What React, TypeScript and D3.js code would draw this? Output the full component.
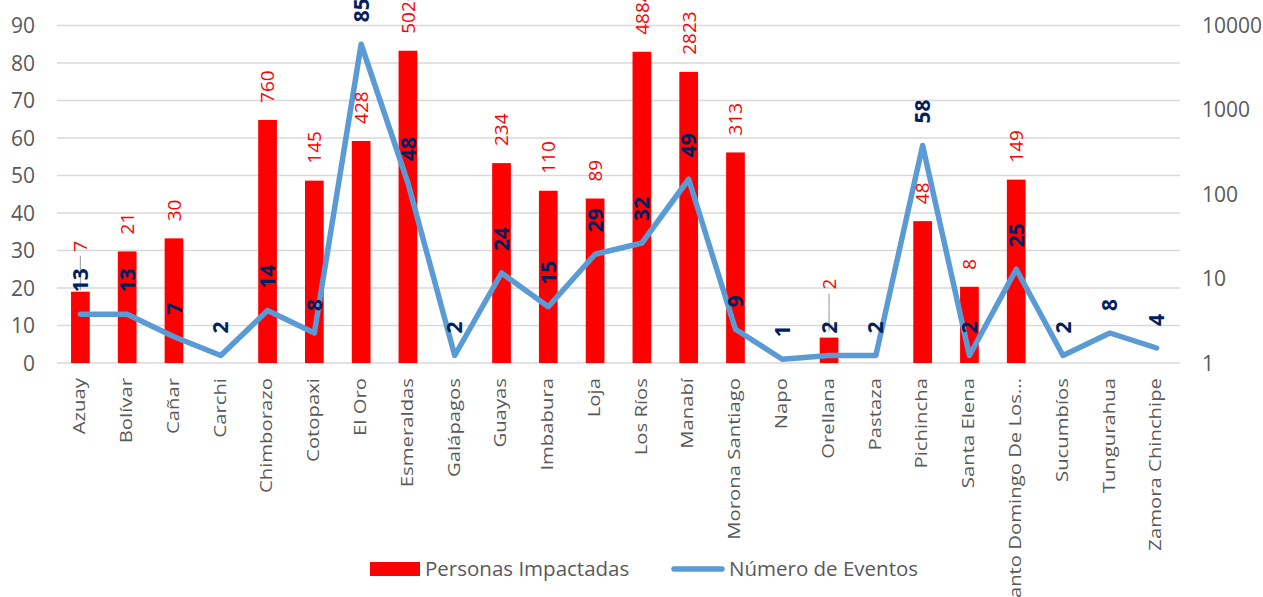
import * as d3 from 'd3';

// provinces on the x axis
const provincias = [
  'Azuay', 'Bolívar', 'Cañar', 'Carchi', 'Chimborazo', 'Cotopaxi', 'El Oro', 'Esmeraldas',
  'Galápagos', 'Guayas', 'Imbabura', 'Loja', 'Los Ríos', 'Manabí', 'Morona Santiago', 'Napo',
  'Orellana', 'Pastaza', 'Pichincha', 'Santa Elena', 'Santo Domingo De Los...', 'Sucumbíos',
  'Tungurahua', 'Zamora Chinchipe',
];

// bars, right log axis (null = no bar)
const personasImpactadas: (number | null)[] = [
  7, 21, 30, null, 760, 145, 428, 5020, null, 234, 110, 89, 4884, 2823, 313, null, 2, null, 48,
  8, 149, null, null, null,
];

// line, left linear axis
const numeroEventos = [
  13, 13, 7, 2, 14, 8, 85, 48, 2, 24, 15, 29, 32, 49, 9, 1, 2, 2, 58, 2, 25, 2, 8, 4,
];

const leftTicks = [0, 10, 20, 30, 40, 50, 60, 70, 80, 90];
const rightTicks = [1, 10, 100, 1000, 10000];

const W = 1263;
const H = 597;
const FONT = '"Open Sans", sans-serif';
const GRAY = '#595959';

// a couple of labels were dragged up in the original (with leader lines)
const barLabelNudge: Record<string, number> = { Azuay: -23, Orellana: -31 };

export default function App() {
  const x = d3.scaleBand<string>().domain(provincias).range([57, 1180]).padding(0);
  const yLeft = d3.scaleLinear().domain([0, 90]).range([363, 25.5]);
  const yRight = d3.scaleLog().domain([1, 10000]).range([363, 25.5]);
  const cx = (p: string) => (x(p) ?? 0) + x.bandwidth() / 2;
  const barW = x.bandwidth() * 0.4;

  const line = d3
    .line<number>()
    .x((_, i) => cx(provincias[i]))
    .y(d => yLeft(d));

  return (
    <div style={{ position: 'absolute', left: 0, top: 0 }}>
      <svg width={W} height={H} style={{ display: 'block', background: '#fff' }} fontFamily={FONT}>
        {/* gridlines */}
        {leftTicks.map(t => (
          <line key={t} x1={57} x2={1180} y1={yLeft(t)} y2={yLeft(t)} stroke="#D9D9D9" strokeWidth={1.6} />
        ))}
        {/* left axis */}
        {leftTicks.map(t => (
          <text key={t} x={35} y={yLeft(t)} dy="0.36em" textAnchor="end" fontSize={21} fill={GRAY}>
            {t}
          </text>
        ))}
        {/* right axis */}
        {rightTicks.map(t => (
          <text key={t} x={1202} y={yRight(t)} dy="0.36em" textAnchor="start" fontSize={21} fill={GRAY}>
            {t}
          </text>
        ))}

        {/* bars */}
        {provincias.map((p, i) => {
          const v = personasImpactadas[i];
          if (v == null) return null;
          const top = yRight(v);
          return <rect key={p} x={cx(p) - barW / 2} y={top} width={barW} height={yRight(1) - top} fill="#FF0000" />;
        })}

        {/* leader lines for moved labels */}
        {provincias.map((p, i) => {
          const v = personasImpactadas[i];
          const n = barLabelNudge[p];
          if (v == null || !n) return null;
          const lblBottom = yRight(v) - 17 + n;
          return (
            <line key={p} x1={cx(p)} x2={cx(p)} y1={lblBottom + 4} y2={yLeft(numeroEventos[i]) - 24}
              stroke="#A6A6A6" strokeWidth={1.2} />
          );
        })}

        {/* line */}
        <path d={line(numeroEventos) ?? ''} fill="none" stroke="#5B9BD5" strokeWidth={5.5}
          strokeLinejoin="round" strokeLinecap="round" />

        {/* bar labels */}
        {provincias.map((p, i) => {
          const v = personasImpactadas[i];
          if (v == null) return null;
          const y0 = yRight(v) - 17 + (barLabelNudge[p] ?? 0);
          return (
            <text key={p} transform={`translate(${cx(p)},${y0}) rotate(-90)`} dy="0.36em"
              fontSize={19} fill="#FF0000" textAnchor="start">
              {v}
            </text>
          );
        })}

        {/* line labels */}
        {provincias.map((p, i) => {
          const y0 = yLeft(numeroEventos[i]) - 22;
          return (
            <text key={p} transform={`translate(${cx(p)},${y0}) rotate(-90)`} dy="0.36em"
              fontSize={21} fontWeight="bold" fill="#002060" textAnchor="start">
              {numeroEventos[i]}
            </text>
          );
        })}

        {/* category labels */}
        {provincias.map(p => (
          <text key={p} transform={`translate(${cx(p)},378) rotate(-90) scale(1.27,1)`} dy="0.3em"
            fontSize={16} fill={GRAY} textAnchor="end">
            {p}
          </text>
        ))}

        {/* legend */}
        <rect x={370} y={562} width={50} height={14} fill="#FF0000" />
        <text x={425} y={576} fontSize={20.5} fill={GRAY}>Personas Impactadas</text>
        <line x1={674} x2={722} y1={569} y2={569} stroke="#5B9BD5" strokeWidth={5.5} strokeLinecap="round" />
        <text x={729} y={576} fontSize={20.5} fill={GRAY}>Número de Eventos</text>
      </svg>
    </div>
  );
}
